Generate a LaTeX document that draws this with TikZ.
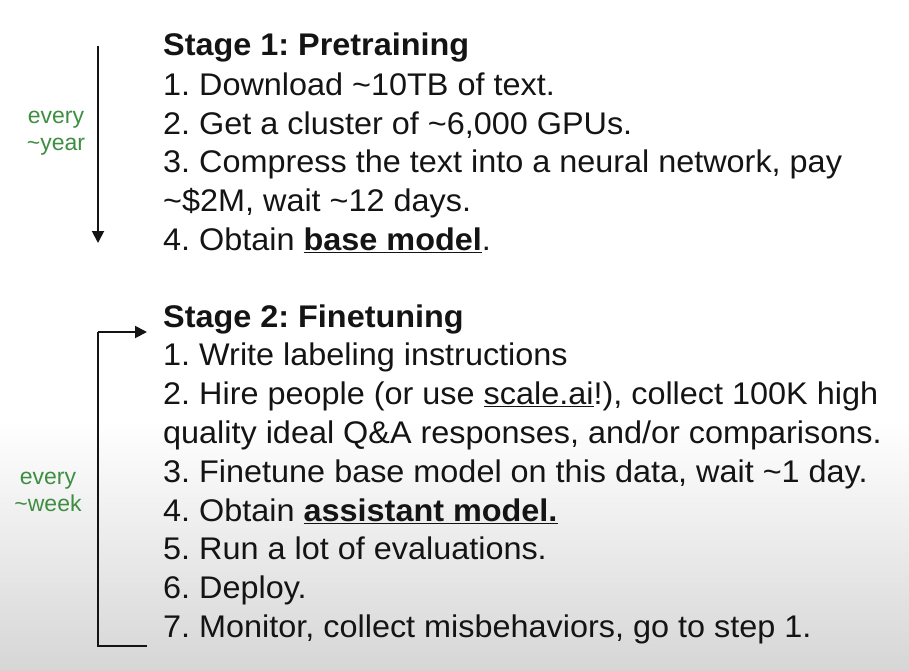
\documentclass[tikz,border=0pt]{standalone}
\usepackage{fontspec}
\setmainfont[FakeStretch=1.035]{Liberation Sans}
\newfontfamily\grnfont{Liberation Sans}
\usetikzlibrary{arrows.meta}
\definecolor{txt}{HTML}{141414}
\definecolor{grn}{HTML}{3E8E41}
\newcommand{\tld}{\textasciitilde}
\newcommand{\ul}[1]{\underline{#1}}
\frenchspacing
\begin{document}
\begin{tikzpicture}[x=1pt,y=-1pt,
  line/.style={anchor=base west,inner sep=0pt,text=txt,font=\fontsize{31.3}{36}\selectfont},
  cyc/.style={text=grn,align=center,inner sep=0pt,font=\grnfont\fontsize{23}{27.5}\selectfont},
  conn/.style={line width=1.9pt,draw=txt,-{Triangle[length=12pt,width=12pt]}},
  bar/.style={line width=1.9pt,draw=txt}]
\useasboundingbox (0,0) rectangle (909,670);
\fill[white] (0,0) rectangle (909,420);
\shade[top color=white,bottom color=black!16] (0,420) rectangle (909,670);
% Stage 1
\node[line] (s1) at (163,55) {\bfseries Stage 1: Pretraining};
\node[line] (a1) at (163,95) {1. Download \tld10TB of text.};
\node[line] (a2) at (163,134) {2. Get a cluster of \tld6,000 GPUs.};
\node[line] (a3) at (163,172) {3. Compress the text into a neural network, pay};
\node[line] (a3b) at (163,211) {\tld\$2M, wait \tld12 days.};
\node[line] (a4) at (163,250) {4. Obtain \ul{\bfseries base model}.};
% Stage 2
\node[line] (s2) at (163,327) {\bfseries Stage 2: Finetuning};
\node[line] (b1) at (163,365) {1. Write labeling instructions};
\node[line] (b2) at (163,404) {2. Hire people (or use \ul{scale.ai}!), collect 100K high};
\node[line] (b2b) at (163,443) {quality ideal Q\&A responses, and/or comparisons.};
\node[line] (b3) at (163,482) {3. Finetune base model on this data, wait \tld1 day.};
\node[line] (b4) at (163,521) {4. Obtain \ul{\bfseries assistant model.}};
\node[line] (b5) at (163,559) {5. Run a lot of evaluations.};
\node[line] (b6) at (163,598) {6. Deploy.};
\node[line] (b7) at (163,637) {7. Monitor, collect misbehaviors, go to step 1.};
% cycle labels
\node[cyc] (y1) at (56,133) {every\\\tld year};
\node[cyc] (w1) at (48,492) {every\\\tld week};
% connectors
\coordinate (p1) at (98,46);
\coordinate (p2) at (98,243);
\draw[conn] (p1) -- (p2);
\coordinate (q0) at (147,646);
\coordinate (q1) at (98,646);
\coordinate (q2) at (98,332);
\coordinate (q3) at (147,332);
\draw[bar] (q0) -- (q1) -- (q2);
\draw[conn] (q2) -- (q3);
\end{tikzpicture}
\end{document}
